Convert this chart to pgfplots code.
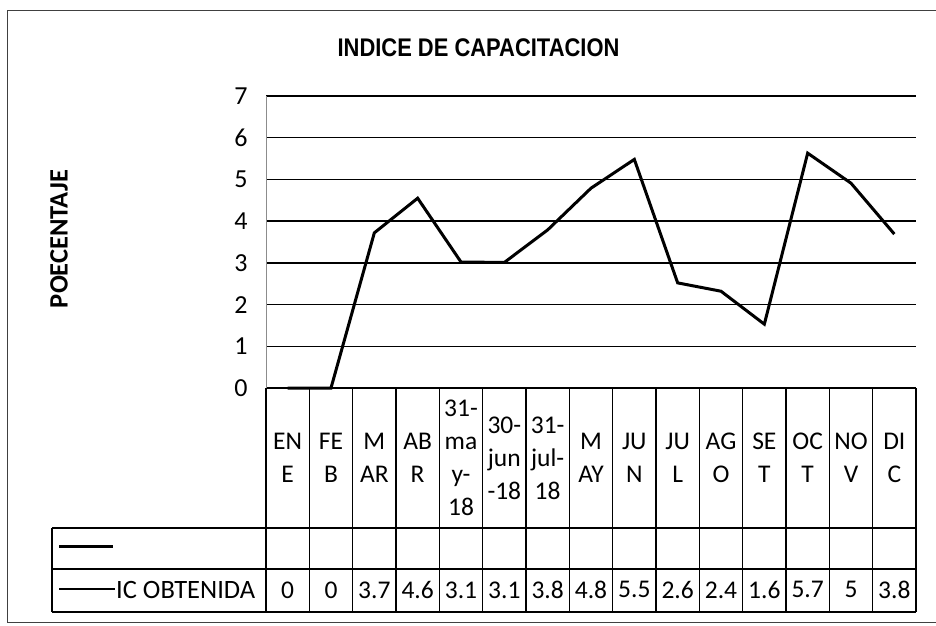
\documentclass[border=0pt]{standalone}
\usepackage{fontspec}
\setmainfont{Carlito}
\newfontfamily\titlefont{Liberation Sans}
\usepackage{pgfplots}
\pgfplotsset{compat=1.18}
\newcommand\tabfont{\fontsize{25.5bp}{33bp}\selectfont}
\newcommand\tickfont{\fontsize{26bp}{30bp}\selectfont}
\begin{document}
\begin{tikzpicture}
\useasboundingbox (0bp,0bp) rectangle (936bp,-626bp);
% outer frame
\draw[black!75, line width=1bp] (945bp,-10bp) -- (7bp,-10bp) -- (7bp,-622bp) -- (945bp,-622bp);
% title and y label
\node[anchor=center, inner sep=0pt] at (478.5bp,-48bp) {\titlefont\bfseries\fontsize{25.5bp}{30bp}\selectfont\scalebox{0.86}[1]{INDICE DE CAPACITACION}};
\node[anchor=center, inner sep=0pt, rotate=90] at (59bp,-239bp) {\bfseries\fontsize{26.5bp}{30bp}\selectfont POECENTAJE};
\begin{axis}[
  at={(266bp,-96bp)}, anchor=north west,
  scale only axis, width=650bp, height=292bp,
  xmin=0.5, xmax=15.5, ymin=0, ymax=7,
  ytick={0,1,...,7}, xtick={1,2,...,15},
  xticklabels={{EN\\E},{FE\\B},{M\\AR},{AB\\R},{31-\\ma\\y-\\18},{30-\\jun\\-18},{31-\\jul-\\18},{M\\AY},{JU\\N},{JU\\L},{AG\\O},{SE\\T},{OC\\T},{NO\\V},{DI\\C}},
  xticklabel style={align=center, anchor=center, yshift=-70bp, font=\tabfont, inner sep=0pt},
  yticklabel style={font=\tickfont, xshift=-15bp},
  major tick length=0pt,
  ymajorgrids, grid style={black, line width=1.3bp},
  axis x line*=bottom, axis y line*=left,
  x axis line style={black, line width=1.3bp, -},
  y axis line style={black!45, line width=0.9bp, -},
  /pgf/number format/assume math mode=true,
  clip=false,
]
\addplot[black, line width=3bp, mark=none, line join=miter] coordinates {
  (1,0) (2,0) (3,3.72) (4,4.55) (5,3.02) (6,3.01) (7,3.79) (8,4.79)
  (9,5.48) (10,2.52) (11,2.32) (12,1.53) (13,5.63) (14,4.91) (15,3.69)};
\addplot[draw=none, mark=none, nodes near coords, point meta=explicit symbolic,
  nodes near coords style={anchor=center, font=\tabfont, text=black}]
  table[meta=lab] {
x y lab
1 -4.84 0
2 -4.84 0
3 -4.84 3.7
4 -4.84 4.6
5 -4.84 3.1
6 -4.84 3.1
7 -4.84 3.8
8 -4.84 4.8
9 -4.84 5.5
10 -4.84 2.6
11 -4.84 2.4
12 -4.84 1.6
13 -4.84 5.7
14 -4.84 5
15 -4.84 3.8
};
\end{axis}
% data table grid
\foreach \k in {0,1,...,15} {
  \draw[black, line width=1.1bp] ({266bp+\k*43.333bp},-388bp) -- ({266bp+\k*43.333bp},-612bp);
}
\draw[black, line width=1.1bp] (52bp,-528bp) -- (916bp,-528bp);
\draw[black, line width=1.1bp] (52bp,-569bp) -- (916bp,-569bp);
\draw[black, line width=1.1bp] (52bp,-612bp) -- (916bp,-612bp);
\draw[black, line width=1.1bp] (52bp,-528bp) -- (52bp,-612bp);
% legend keys
\draw[black, line width=3bp] (59bp,-546bp) -- (113bp,-546bp);
\draw[black, line width=2bp] (59bp,-589bp) -- (115bp,-589bp);
\node[anchor=base west, inner sep=0pt] at (116bp,-598bp) {\fontsize{26.5bp}{30bp}\selectfont IC OBTENIDA};
\end{tikzpicture}
\end{document}
